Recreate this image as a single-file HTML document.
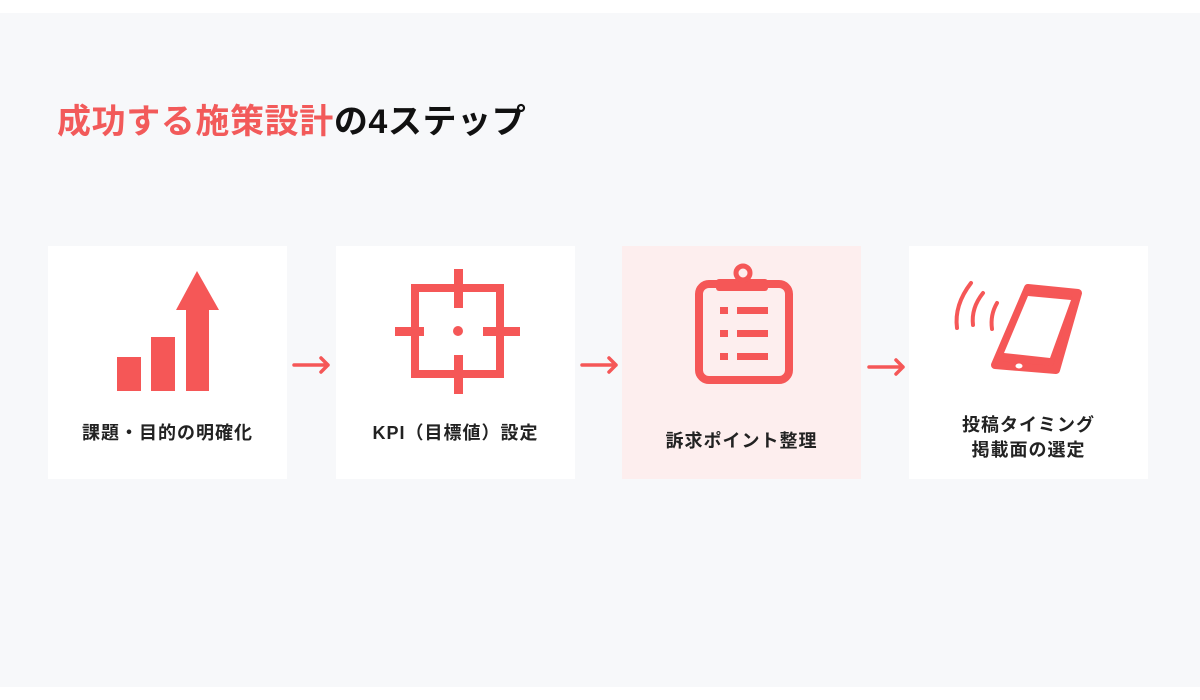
<!DOCTYPE html>
<html><head><meta charset="utf-8"><style>
html,body{margin:0;padding:0;width:1200px;height:700px;background:#fff;overflow:hidden}
.bg{position:absolute;left:0;top:13px;width:1200px;height:674px;background:#f7f8fa}
.t{position:absolute;left:57px;top:94px;font:bold 34px "Liberation Sans","Noto Sans CJK JP",sans-serif;color:#111;white-space:nowrap;letter-spacing:0.6px}
.t span{color:#f25a5a}
.card{position:absolute;top:246px;width:239px;height:233px;background:#fff}
.lab{position:absolute;left:0;width:100%;text-align:center;font:bold 18px "Liberation Sans","Noto Sans CJK JP",sans-serif;color:#222;letter-spacing:1px;line-height:25px}
</style></head><body>
<div class="bg"></div>
<div class="t"><span>成功する施策設計</span>の4ステップ</div>
<div class="card" style="left:48px"><div class="lab" style="top:175px">課題・目的の明確化</div></div>
<div class="card" style="left:336px"><div class="lab" style="top:175px">KPI（目標値）設定</div></div>
<div class="card" style="left:622px;background:#fdeeee"><div class="lab" style="top:183px">訴求ポイント整理</div></div>
<div class="card" style="left:909px"><div class="lab" style="top:167px">投稿タイミング<br>掲載面の選定</div></div>
<svg width="1200" height="700" style="position:absolute;left:0;top:0" fill="#f55757" stroke="none">
<rect x="117" y="357" width="24" height="34"/>
<rect x="151" y="337" width="24" height="54"/>
<rect x="186" y="305" width="23" height="86"/>
<polygon points="197,271 219,310 176,310"/>
<rect x="415" y="288" width="85" height="86" fill="none" stroke="#f55757" stroke-width="8"/>
<rect x="454" y="269" width="9" height="39"/>
<rect x="454" y="355" width="9" height="39"/>
<rect x="395" y="327" width="29" height="9"/>
<rect x="483" y="327" width="37" height="9"/>
<circle cx="458" cy="331" r="5"/>
<g stroke="#f55757" stroke-width="3.5" fill="none" stroke-linecap="round" stroke-linejoin="round">
<path d="M294 365H328M321 358L328 365L321 372"/>
<path d="M582 365H616M609 358L616 365L609 372"/>
<path d="M869 367H903M896 360L903 367L896 374"/>
</g>
<rect x="699" y="284" width="90" height="96" rx="10" fill="none" stroke="#f55757" stroke-width="8"/>
<rect x="716" y="279" width="52" height="12" rx="3"/>
<circle cx="743" cy="273" r="7" fill="none" stroke="#f55757" stroke-width="5"/>
<rect x="720" y="307" width="8" height="7"/><rect x="737" y="307" width="31" height="7"/>
<rect x="720" y="330" width="8" height="7"/><rect x="737" y="330" width="31" height="7"/>
<rect x="720" y="353" width="8" height="7"/><rect x="737" y="353" width="31" height="7"/>
<polygon points="1028,288 1078,293 1056,370 995,365" fill="#f55757" stroke="#f55757" stroke-width="8" stroke-linejoin="round"/>
<polygon points="1028,296 1071,300 1050,358 1004,353" fill="#fff"/>
<ellipse cx="1019" cy="366" rx="3.5" ry="2.5" fill="#fff"/>
<g fill="none" stroke="#f55757" stroke-width="4" stroke-linecap="round">
<path d="M971 283Q954 305 957 328"/>
<path d="M983 293Q971 308 973 325"/>
<path d="M997 303Q990 315 992 329"/>
</g>
</svg>
</body></html>
